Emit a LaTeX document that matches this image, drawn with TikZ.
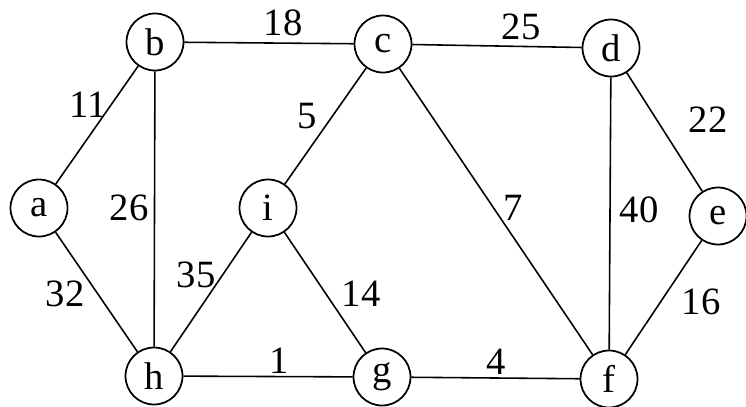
\documentclass[tikz,border=0pt]{standalone}
\usepackage{fontspec}
\setmainfont{Liberation Serif}
\usetikzlibrary{positioning}
\tikzset{
  vertex/.style={circle, draw=black, line width=1pt, fill=white,
                 minimum size=1.14cm, inner sep=0pt,
                 font=\fontsize{22}{25}\selectfont},
  weight/.style={font=\fontsize{22}{25}\selectfont, inner sep=1pt},
  edge/.style={draw=black, line width=0.9pt},
}
\begin{document}
\begin{tikzpicture}[x=0.02cm, y=-0.02cm]
  \useasboundingbox (0,0) rectangle (746,406);

  % vertices
  \node[vertex] (a) at (39,208) {a};
  \node[vertex] (b) at (155,42) {b};
  \node[vertex] (c) at (383,44) {c};
  \node[vertex] (d) at (611,48) {d};
  \node[vertex] (e) at (718,216) {e};
  \node[vertex] (i) at (268,208) {i};
  \node[vertex] (h) at (154,376) {h};
  \node[vertex] (g) at (382,377) {g};
  \node[vertex] (f) at (609,379) {f};

  % edges
  \draw[edge] (a) -- (b);
  \draw[edge] (a) -- (h);
  \draw[edge] (b) -- (c);
  \draw[edge] (b) -- (h);
  \draw[edge] (c) -- (d);
  \draw[edge] (c) -- (i);
  \draw[edge] (c) -- (f);
  \draw[edge] (d) -- (f);
  \draw[edge] (d) -- (e);
  \draw[edge] (e) -- (f);
  \draw[edge] (i) -- (h);
  \draw[edge] (i) -- (g);
  \draw[edge] (h) -- (g);
  \draw[edge] (g) -- (f);

  % weights
  \node[weight] (w18) at (283,23) {18};
  \node[weight] (w25) at (521,27) {25};
  \node[weight] (w11) at (88,105) {11};
  \node[weight] (w5) at (307,116) {5};
  \node[weight] (w22) at (708,120) {22};
  \node[weight] (w26) at (129,208) {26};
  \node[weight] (w7) at (513,208) {7};
  \node[weight] (w40) at (639,210) {40};
  \node[weight] (w32) at (65,294) {32};
  \node[weight] (w35) at (196,275) {35};
  \node[weight] (w14) at (361,294) {14};
  \node[weight] (w16) at (701,302) {16};
  \node[weight] (w1) at (279,361) {1};
  \node[weight] (w4) at (496,362) {4};
\end{tikzpicture}
\end{document}
